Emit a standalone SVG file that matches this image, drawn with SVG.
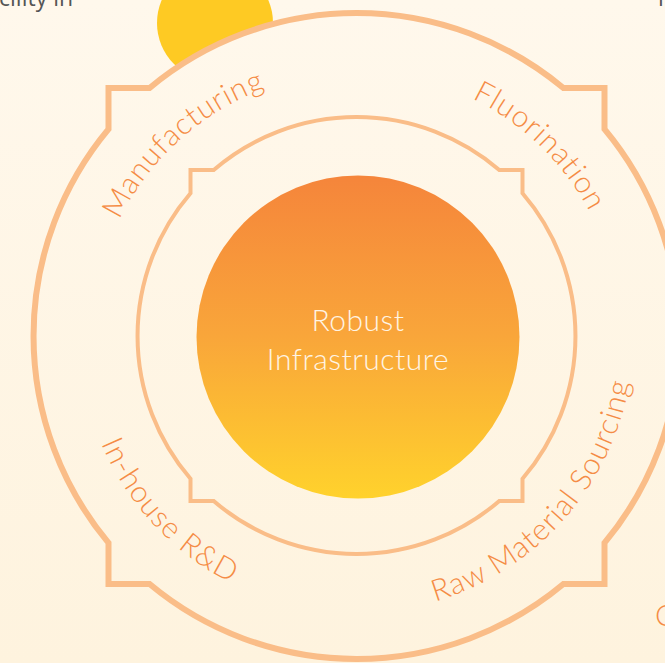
<svg xmlns="http://www.w3.org/2000/svg" width="665" height="663" viewBox="0 0 665 663">
  <defs>
    <linearGradient id="bg" x1="0" y1="0" x2="0" y2="663" gradientUnits="userSpaceOnUse">
      <stop offset="0" stop-color="#FFF8EC"/>
      <stop offset="1" stop-color="#FEF3DE"/>
    </linearGradient>
    <linearGradient id="core" x1="0" y1="0" x2="0" y2="1">
      <stop offset="0" stop-color="#F5853B"/>
      <stop offset="0.5" stop-color="#F9A63A"/>
      <stop offset="1" stop-color="#FFD22C"/>
    </linearGradient>
    <path id="p-manu" d="M132.6,475.9 A264,264 0 0 1 519.0,128.0"/>
    <path id="p-fluo" d="M201.3,122.4 A264,264 0 0 1 575.4,483.6"/>
    <path id="p-rnd" d="M135.3,169.3 A277,277 0 0 0 507.4,568.3"/>
    <path id="p-raw" d="M211.8,572.2 A277,277 0 0 0 573.3,163.6"/>
  </defs>
  <style>
    .ring { fill: url(#bg); stroke: #FABD88; stroke-linejoin: miter; }
    .lbl { font-family: Lato, "Open Sans", "Liberation Sans", sans-serif; font-weight: 300; font-size: 30px; letter-spacing: 1px; fill: #F58C45; }
    .core-t { font-family: Lato, "Open Sans", "Liberation Sans", sans-serif; font-weight: 300; font-size: 30px; letter-spacing: 0.5px; fill: #FFF4E4; text-anchor: middle; }
    .edge-t { font-family: "Open Sans", "Liberation Sans", sans-serif; font-size: 23px; fill: #555555; }
  </style>
  <rect width="665" height="663" fill="url(#bg)"/>
  <text class="edge-t" x="-1" y="6">cility in</text>
  <text class="edge-t" x="658" y="6">l</text>
  <circle cx="215" cy="23" r="58" fill="#FECA23"/>
  <text class="lbl" x="655" y="626">C</text>

  <g id="outer-ring">
    <path class="ring" stroke-width="6" d="M149.6,88 A323,323 0 0 1 563.4,88 L604.5,88 L604.5,129.1 A323,323 0 0 1 604.5,542.9 L604.5,584 L563.4,584 A323,323 0 0 1 149.6,584 L108.5,584 L108.5,542.9 A323,323 0 0 1 108.5,129.1 L108.5,88 Z"/>
  </g>
  <g id="inner-ring">
    <path class="ring" stroke-width="4" d="M213.7,170 A219,219 0 0 1 499.3,170 L522.5,170 L522.5,193.2 A219,219 0 0 1 522.5,478.8 L522.5,501 L499.3,501 A219,219 0 0 1 213.7,501 L190.5,501 L190.5,478.8 A219,219 0 0 1 190.5,193.2 L190.5,170 Z"/>
  </g>
  <g id="core">
    <circle cx="358" cy="337" r="161.5" fill="url(#core)"/>
    <text class="core-t" x="358" y="331">Robust</text>
    <text class="core-t" x="358" y="370">Infrastructure</text>
  </g>
  <g id="label-manufacturing">
    <text class="lbl" text-anchor="middle"><textPath href="#p-manu" startOffset="50%">Manufacturing</textPath></text>
  </g>
  <g id="label-fluorination">
    <text class="lbl" text-anchor="middle"><textPath href="#p-fluo" startOffset="50%">Fluorination</textPath></text>
  </g>
  <g id="label-rnd">
    <text class="lbl" text-anchor="middle"><textPath href="#p-rnd" startOffset="50%">In-house R&amp;D</textPath></text>
  </g>
  <g id="label-raw">
    <text class="lbl" text-anchor="middle"><textPath href="#p-raw" startOffset="50%">Raw Material Sourcing</textPath></text>
  </g>
  <g id="connectors"/>
</svg>
